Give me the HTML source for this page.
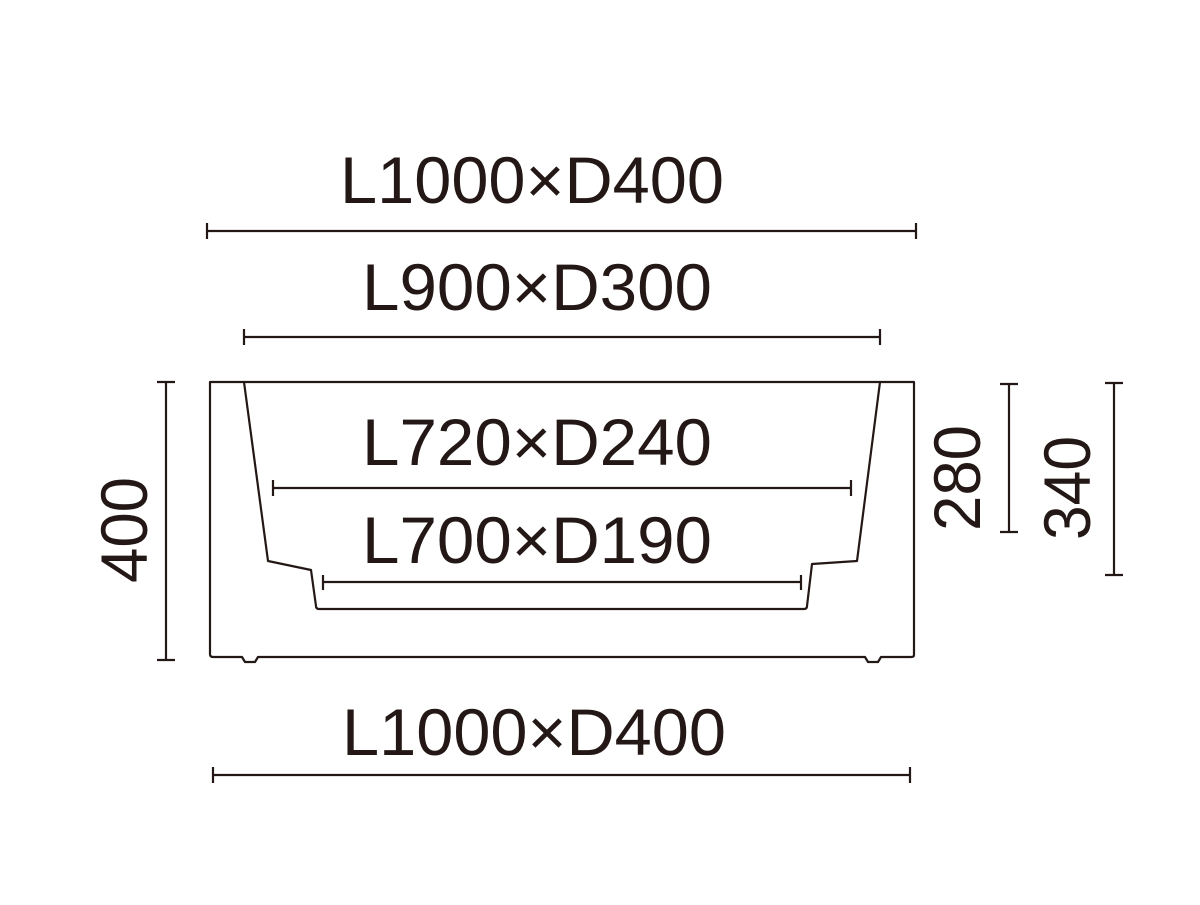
<!DOCTYPE html>
<html><head><style>html,body{margin:0;padding:0;background:#fff}</style></head>
<body>
<svg width="1200" height="900" viewBox="0 0 1200 900" xmlns="http://www.w3.org/2000/svg">
<g fill="none" stroke="#231815" stroke-width="2.2" stroke-linejoin="round">
<path d="M210,382 H914 V655 Q914,657 911,657 H881 L878,662 H868 L865,657 H258 L255,662 H245 L242,657 H213 Q210,657 210,654 Z"/>
<path d="M244,382 L268,561 L311,570 L316,606 Q316,609 319,609 H804 Q807,609 807,606 L812,564 L857,561 L880,382"/>
<path d="M207,231 H916 M207,223 V239 M916,223 V239"/>
<path d="M244,337 H880 M244,329 V345 M880,329 V345"/>
<path d="M273,488 H851 M273,480 V496 M851,480 V496"/>
<path d="M323,582 H801 M323,575 V590 M801,575 V590"/>
<path d="M213,775 H910 M213,767 V783 M910,767 V783"/>
<path d="M166,382 V660 M157,382 H175 M157,660 H175"/>
<path d="M1009,384 V532 M1000,384 H1018 M1000,532 H1018"/>
<path d="M1114,383 V575 M1105,383 H1123 M1105,575 H1123"/>
</g>
<g fill="#231815" font-family="Liberation Sans, sans-serif" font-size="66" text-anchor="middle">
<text x="532" y="203" textLength="384" lengthAdjust="spacingAndGlyphs">L1000×D400</text>
<text x="537" y="310" textLength="350" lengthAdjust="spacingAndGlyphs">L900×D300</text>
<text x="537" y="465" textLength="350" lengthAdjust="spacingAndGlyphs">L720×D240</text>
<text x="537" y="563" textLength="350" lengthAdjust="spacingAndGlyphs">L700×D190</text>
<text x="534" y="755" textLength="384" lengthAdjust="spacingAndGlyphs">L1000×D400</text>
<text transform="translate(147,530) rotate(-90)" textLength="106" lengthAdjust="spacingAndGlyphs">400</text>
<text transform="translate(980,478) rotate(-90)" textLength="106" lengthAdjust="spacingAndGlyphs">280</text>
<text transform="translate(1090,488) rotate(-90)" textLength="104" lengthAdjust="spacingAndGlyphs">340</text>
</g>
</svg>
</body></html>
